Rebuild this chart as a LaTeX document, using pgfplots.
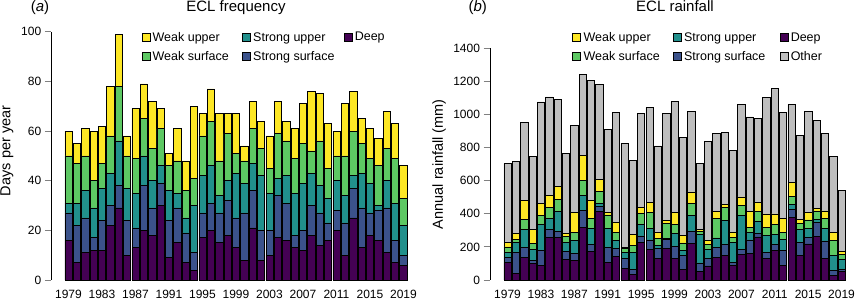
\documentclass[border=0pt]{standalone}
\usepackage{pgfplots}
\pgfplotsset{compat=1.18}
\usepackage{pgfplotstable}
\usepackage{fontspec}
\setmainfont{Liberation Sans}
\definecolor{cdeep}{HTML}{440154}
\definecolor{css}{HTML}{3B528B}
\definecolor{csu}{HTML}{21908C}
\definecolor{cws}{HTML}{5DC863}
\definecolor{cwu}{HTML}{FDE725}
\definecolor{coth}{HTML}{BEBEBE}

% ECL frequency (days per year)
\pgfplotstableread{
x D SS SU WS WU
0 16 11 4 19 10
1 7 15 9 16 8
2 11 14 11 14 11
3 12 5 12 11 20
4 12 12 13 10 15
5 22 8 13 15 20
6 29 9 18 22 21
7 10 14 13 13 8
8 13 8 14 14 20
9 20 18 12 15 14
10 18 11 11 13 19
11 30 9 7 15 8
12 9 15 12 10 5
13 15 14 6 13 13
14 7 12 6 11 12
15 4 7 19 11 29
16 17 10 15 16 9
17 20 11 15 18 13
18 15 12 7 14 19
19 18 14 8 19 8
20 13 12 18 8 16
21 8 19 12 9 6
22 21 15 11 14 11
23 8 12 22 11 11
24 10 10 15 10 13
25 17 17 7 18 13
26 16 15 11 14 8
27 13 5 17 14 12
28 12 8 19 16 16
29 18 12 13 9 24
30 14 13 11 18 19
31 16 7 10 12 18
32 20 8 12 10 10
33 10 13 11 16 21
34 25 12 5 18 16
35 13 16 14 12 10
36 18 9 12 10 12
37 16 12 2 16 11
38 11 18 11 13 15
39 7 9 15 18 14
40 6 4 12 11 13
}\freq

% ECL rainfall (mm)
\pgfplotstableread{
x D SS SU WS WU O
0 105 30 30 35 25 478
1 38 127 60 19 36 435
2 135 60 111 59 115 473
3 99 20 64 39 84 439
4 89 90 157 55 72 613
5 256 48 67 66 73 596
6 256 38 119 75 76 528
7 123 48 55 38 16 483
8 117 42 81 46 121 528
9 316 103 93 90 149 490
10 171 43 100 57 108 728
11 415 28 18 73 76 570
12 107 88 119 79 14 501
13 141 52 47 50 58 663
14 68 61 38 22 10 627
15 36 28 101 46 63 447
16 226 40 70 65 36 570
17 185 57 70 97 60 572
18 131 60 20 41 38 520
19 189 55 8 88 21 646
20 131 72 79 54 71 671
21 64 83 34 43 46 594
22 220 72 99 74 67 487
23 54 49 171 20 10 399
24 85 46 54 29 26 596
25 137 62 55 117 44 473
26 151 63 147 76 18 439
27 89 18 121 30 28 496
28 155 30 204 62 51 558
29 161 81 44 30 99 570
30 260 20 75 60 56 504
31 131 38 101 46 83 705
32 177 37 62 60 63 757
33 89 90 67 44 81 640
34 377 48 30 51 82 472
35 149 77 78 40 23 509
36 218 40 56 49 44 614
37 262 86 19 50 16 530
38 129 107 78 57 46 471
39 26 32 91 91 46 463
40 54 12 57 30 22 367
}\rain

\pgfplotsset{
  lbox/.style={legend image code/.code={\draw[fill=#1, draw=black, line width=0.6pt] (0pt,-4pt) rectangle (8pt,4pt);}},
  panel/.style={
    scale only axis, anchor=south west,
    axis x line=bottom, axis y line=left,
    axis line style={-, line width=0.8pt},
    x axis line style={draw=none},
    xtick style={draw=none},
    ytick style={line width=0.8pt},
    tick align=outside, major tick length=6.5pt,
    ybar stacked, bar width=0.87,
    xtick={0,4,...,40},
    xticklabels={1979,1983,1987,1991,1995,1999,2003,2007,2011,2015,2019},
    tick label style={font=\fontsize{12}{14}\selectfont},
    /pgf/number format/assume math mode=true,
    /pgf/number format/1000 sep={},
    xticklabel style={anchor=center, yshift=-7.5pt},
    ymin=0, clip=false,
    legend columns=3, legend cell align=left,
    every axis plot/.append style={draw=black, line width=0.6pt},
  }
}

\begin{document}
\begin{tikzpicture}
% Panel (a)
\begin{axis}[panel,
  at={(51.3pt,19pt)}, width=369.3pt, height=248.3pt,
  xmin=-2.05, xmax=42.05, ymax=100,
  ytick={0,20,...,100},
  ylabel={Days per year},
  every axis y label/.style={at={(axis description cs:-0.12,0.52)}, rotate=90, anchor=center, font=\fontsize{14.5}{16}\selectfont},
  legend style={draw=none, fill=none, at={(axis cs:8.7,101.1)}, anchor=north west,
    font=\fontsize{12.5}{14}\selectfont, inner sep=0pt, row sep=2.5pt, column sep=0pt,
    nodes={inner xsep=2.5pt, inner ysep=3pt}},
]
\addplot[fill=cdeep, forget plot] table[x=x, y=D] {\freq};
\addplot[fill=css, forget plot] table[x=x, y=SS] {\freq};
\addplot[fill=csu, forget plot] table[x=x, y=SU] {\freq};
\addplot[fill=cws, forget plot] table[x=x, y=WS] {\freq};
\addplot[fill=cwu, forget plot] table[x=x, y=WU] {\freq};
\addlegendimage{lbox=cwu}\addlegendentry{\makebox[87pt][l]{Weak upper}}
\addlegendimage{lbox=csu}\addlegendentry{\makebox[88pt][l]{Strong upper}}
\addlegendimage{lbox=cdeep}\addlegendentry{Deep}
\addlegendimage{lbox=cws}\addlegendentry{\makebox[87pt][l]{Weak surface}}
\addlegendimage{lbox=css}\addlegendentry{\makebox[88pt][l]{Strong surface}}
\end{axis}
% Panel (b)
\begin{axis}[panel,
  at={(490pt,19pt)}, width=369.1pt, height=231.7pt,
  xmin=-2.1, xmax=42.1, ymax=1400,
  ytick={0,200,...,1400},
  ylabel={Annual rainfall (mm)},
  every axis y label/.style={at={(axis description cs:-0.138,0.5)}, rotate=90, anchor=center, font=\fontsize{14.5}{16}\selectfont},
  legend style={draw=none, fill=none, at={(axis cs:7.75,1515)}, anchor=north west,
    font=\fontsize{12.5}{14}\selectfont, inner sep=0pt, row sep=2.5pt, column sep=0pt,
    nodes={inner xsep=2.5pt, inner ysep=3pt}},
]
\addplot[fill=cdeep, forget plot] table[x=x, y=D] {\rain};
\addplot[fill=css, forget plot] table[x=x, y=SS] {\rain};
\addplot[fill=csu, forget plot] table[x=x, y=SU] {\rain};
\addplot[fill=cws, forget plot] table[x=x, y=WS] {\rain};
\addplot[fill=cwu, forget plot] table[x=x, y=WU] {\rain};
\addplot[fill=coth, forget plot] table[x=x, y=O] {\rain};
\addlegendimage{lbox=cwu}\addlegendentry{\makebox[87pt][l]{Weak upper}}
\addlegendimage{lbox=csu}\addlegendentry{\makebox[93pt][l]{Strong upper}}
\addlegendimage{lbox=cdeep}\addlegendentry{Deep}
\addlegendimage{lbox=cws}\addlegendentry{\makebox[87pt][l]{Weak surface}}
\addlegendimage{lbox=css}\addlegendentry{\makebox[93pt][l]{Strong surface}}
\addlegendimage{lbox=coth}\addlegendentry{Other}
\end{axis}
\node[font=\fontsize{15}{17}\selectfont, anchor=base] at (236pt,287.5pt) {ECL frequency};
\node[font=\fontsize{15}{17}\selectfont, anchor=base] at (40pt,287.5pt) {(\textit{a})};
\node[font=\fontsize{15}{17}\selectfont, anchor=base] at (675pt,287.5pt) {ECL rainfall};
\node[font=\fontsize{15}{17}\selectfont, anchor=base] at (477.7pt,287.5pt) {(\textit{b})};
\pgfresetboundingbox
\useasboundingbox (0pt,0pt) rectangle (857pt,299pt);
\end{tikzpicture}
\end{document}
